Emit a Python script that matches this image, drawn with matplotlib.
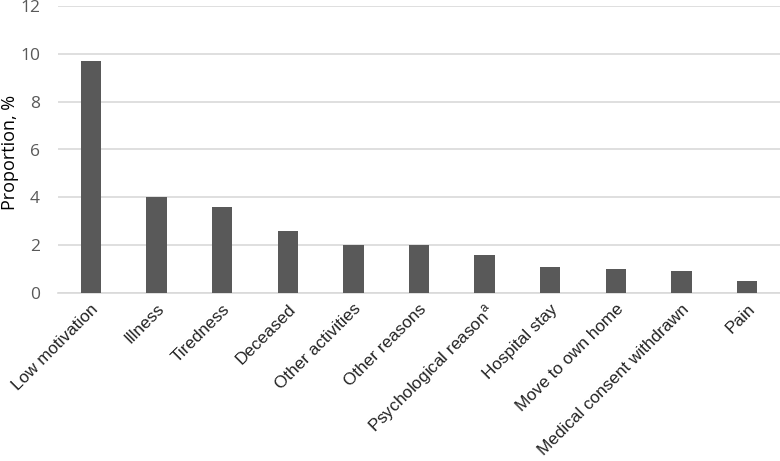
import matplotlib
matplotlib.use('Agg')
import matplotlib.pyplot as plt
import numpy as np

# Reasons for drop-out
categories = ['Low motivation', 'Illness', 'Tiredness', 'Deceased', 'Other activities',
              'Other reasons', 'Psychological reason$^{\\mathrm{a}}$', 'Hospital stay',
              'Move to own home', 'Medical consent withdrawn', 'Pain']
proportion = [9.7, 4.0, 3.6, 2.6, 2.0, 2.0, 1.6, 1.1, 1.0, 0.9, 0.5]
yticks = [0, 2, 4, 6, 8, 10, 12]

plt.rcParams['mathtext.fontset'] = 'custom'
plt.rcParams['mathtext.rm'] = 'Liberation Sans'

fig = plt.figure(figsize=(7.8, 4.61), dpi=100)
ax = fig.add_axes([58 / 780, 1 - 293 / 461, 722 / 780, 287 / 461])

x = np.arange(len(categories))
ax.bar(x, proportion, width=0.31, color='#595959', zorder=3)

ax.set_ylim(0, 12)
ax.set_xlim(-0.5, len(categories) - 0.5)
ax.set_yticks(yticks)
ax.set_yticklabels([str(t) for t in yticks], fontfamily='Open Sans', fontsize=12.5, color='#595959')
ax.yaxis.grid(True, color='#d9d9d9', linewidth=1.2, zorder=0)
for s in ['top', 'right', 'left']:
    ax.spines[s].set_visible(False)
ax.spines['bottom'].set_color('#d9d9d9')
ax.spines['bottom'].set_linewidth(1.2)
ax.tick_params(axis='both', length=0)
ax.tick_params(axis='y', pad=13)

ax.set_xticks(x)
ax.set_xticklabels(categories, rotation=45, ha='right', rotation_mode='anchor',
                   fontfamily='Liberation Sans', fontsize=12.3, color='#222222')
ax.tick_params(axis='x', pad=6)

fig.text(10 / 780, 1 - 152 / 461, 'Proportion, %', rotation=90, ha='center', va='center',
         fontfamily='Open Sans', fontsize=13, color='black')

fig.savefig('out.png', dpi=100)
